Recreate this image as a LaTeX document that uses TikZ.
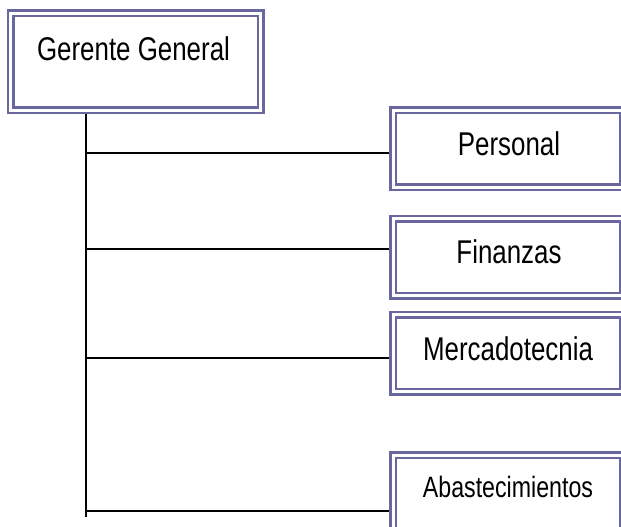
\documentclass[tikz,border=0pt]{standalone}
\usepackage{fontspec}
\setmainfont{Liberation Sans}
\definecolor{frame}{RGB}{104,104,158}
% box captions are set a little taller than the font's natural shape
\newcommand{\tallword}[1]{\scalebox{1}[1.27]{#1}}
\begin{document}
\begin{tikzpicture}[x=1pt,y=-1pt,
  unit/.style={rectangle, draw=frame, double=white, double distance=3pt,
    line width=2.5pt, fill=white, inner sep=0pt, outer sep=4pt,
    minimum width=230pt, minimum height=77pt},
  chief/.style={unit, minimum width=250pt, minimum height=96.5pt},
  caption/.style={anchor=base, inner sep=0pt, font=\fontsize{25.9}{30}\selectfont},
  small caption/.style={caption, font=\fontsize{23.2}{28}\selectfont},
  link/.style={draw=black, line width=1.5pt}]
\useasboundingbox (0,0) rectangle (621,527);
\fill[white] (0,0) rectangle (621,527);
\clip (0,0) rectangle (621,527);

% boxes
\node[chief] (gg) at (135.5,61.75) {};
\node[unit] (per) at (508.25,148.5) {};
\node[unit] (fin) at (508.25,257) {};
\node[unit] (mer) at (508.25,353.25) {};
\node[unit] (aba) at (508.25,493.5) {};

% labels
\node[caption] (ggtxt) at (133.5,60) {\tallword{Gerente General}};
\node[caption] (pertxt) at (509,155.5) {\tallword{Personal}};
\node[caption] (fintxt) at (509,263) {\tallword{Finanzas}};
\node[caption] (mertxt) at (508,360.5) {\tallword{Mercadotecnia}};
\node[small caption] (abatxt) at (508,497.5) {\tallword{Abastecimientos}};

% trunk and branches
\coordinate (trunk) at (86,517);
\draw[link] (gg.south -| trunk) -- (trunk);
\draw[link] ([yshift=-4.5pt]per.west -| trunk) -- ([yshift=-4.5pt]per.west);
\draw[link] ([yshift=8pt]fin.west -| trunk) -- ([yshift=8pt]fin.west);
\draw[link] ([yshift=-4.75pt]mer.west -| trunk) -- ([yshift=-4.75pt]mer.west);
\draw[link] ([yshift=-17.5pt]aba.west -| trunk) -- ([yshift=-17.5pt]aba.west);
\end{tikzpicture}
\end{document}
